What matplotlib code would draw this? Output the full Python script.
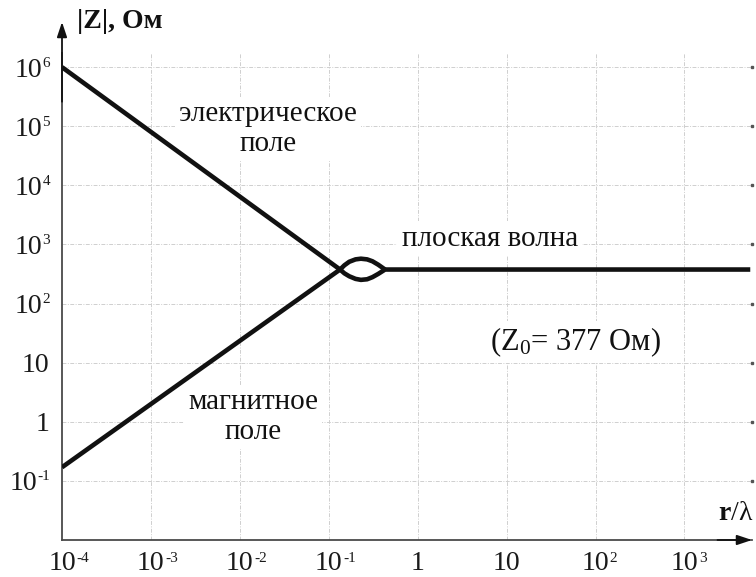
import matplotlib
matplotlib.use("Agg")
import matplotlib.pyplot as plt

plt.rcParams["font.family"] = ["Liberation Serif", "DejaVu Serif"]
plt.rcParams["mathtext.fontset"] = "custom"
plt.rcParams["mathtext.rm"] = "Liberation Serif"
plt.rcParams["mathtext.it"] = "Liberation Serif:italic"
plt.rcParams["mathtext.bf"] = "Liberation Serif:bold"

# Wave impedance of the electric-dipole field (falls, dips below Z0 near r/λ ~ 0.2)
r_electric = [1e-4, 0.134, 0.15, 0.17, 0.2, 0.23, 0.27, 0.31, 0.36, 0.43, 5500]
z_electric = [1e6, 377, 325, 290, 262, 252, 258, 280, 318, 377, 377]

# Wave impedance of the magnetic-dipole field (rises, overshoots Z0)
r_magnetic = [1e-4, 0.134, 0.15, 0.17, 0.2, 0.23, 0.27, 0.31, 0.36, 0.43]
z_magnetic = [0.17, 377, 445, 510, 560, 575, 560, 520, 455, 377]

# tick positions with (mantissa, exponent) labels; empty exponent = plain number
x_ticks = [1e-4, 1e-3, 1e-2, 1e-1, 1, 10, 1e2, 1e3]
x_tick_labels = [("10", "-4"), ("10", "-3"), ("10", "-2"), ("10", "-1"),
                 ("1", ""), ("10", ""), ("10", "2"), ("10", "3")]
y_ticks = [1e-1, 1, 10, 1e2, 1e3, 1e4, 1e5, 1e6]
y_tick_labels = [("10", "-1"), ("1", ""), ("10", ""), ("10", "2"), ("10", "3"),
                 ("10", "4"), ("10", "5"), ("10", "6")]

BASE_FS = 20
EXP_FS = 11
INK = "#1a1a1a"


def text_width_pt(s, size):
    # approximate advance widths of Times-like glyphs
    return sum((0.333 if ch == "-" else 0.5) * size for ch in s)


fig = plt.figure(figsize=(7.56, 5.77), dpi=100)
ax = fig.add_axes([62 / 756, 1 - 540 / 577, (752 - 62) / 756, (540 - 53) / 577])
ax.set_xscale("log")
ax.set_yscale("log")
ax.set_xlim(1e-4, 10 ** 3.76)
ax.set_ylim(1e-2, 10 ** 6.24)

grid_style = dict(color="#cfcfcf", lw=0.7, ls=(0, (4, 1.5, 1, 1.5)), zorder=0)
for x in x_ticks[1:]:
    ax.axvline(x, **grid_style)
for y in y_ticks:
    ax.axhline(y, **grid_style)
    ax.plot([10 ** 3.755], [y], marker="s", ms=1.6, color="#555555",
            clip_on=False, zorder=1)

ax.plot(r_electric, z_electric, color="#111111", lw=3.3, solid_joinstyle="round",
        solid_capstyle="butt", zorder=3)
ax.plot(r_magnetic, z_magnetic, color="#111111", lw=3.3, solid_joinstyle="round",
        solid_capstyle="butt", zorder=3)

ax.set_xticks(x_ticks)
ax.set_yticks(y_ticks)
ax.set_xticklabels([])
ax.set_yticklabels([])
ax.minorticks_off()
ax.tick_params(axis="both", length=0)

# x tick labels: mantissa centred on the tick, small raised exponent after it
for x, (base, exp) in zip(x_ticks, x_tick_labels):
    ax.annotate(base, xy=(x, 0), xycoords=("data", "axes fraction"),
                xytext=(0, -21.6), textcoords="offset points", ha="center",
                va="baseline", fontsize=BASE_FS, color=INK, annotation_clip=False)
    if exp:
        ax.annotate(exp, xy=(x, 0), xycoords=("data", "axes fraction"),
                    xytext=(text_width_pt(base, BASE_FS) / 2 + 0.3, -15.8),
                    textcoords="offset points", ha="left", va="baseline",
                    fontsize=EXP_FS, color=INK, annotation_clip=False)

# y tick labels: right-aligned left of the axis
for y, (base, exp) in zip(y_ticks, y_tick_labels):
    right = -8.6
    if exp:
        ax.annotate(exp, xy=(0, y), xycoords=("axes fraction", "data"),
                    xytext=(right, 0.3), textcoords="offset points", ha="right",
                    va="baseline", fontsize=EXP_FS, color=INK, annotation_clip=False)
        right -= text_width_pt(exp, EXP_FS) + 0.3
    else:
        right -= 0.5
    ax.annotate(base, xy=(0, y), xycoords=("axes fraction", "data"),
                xytext=(right, -6.8), textcoords="offset points", ha="right",
                va="baseline", fontsize=BASE_FS, color=INK, annotation_clip=False)

for side in ("top", "right"):
    ax.spines[side].set_visible(False)
for side in ("left", "bottom"):
    ax.spines[side].set_color("#4a4a4a")
    ax.spines[side].set_linewidth(1.3)

# axis arrows
arrow = dict(arrowstyle="-|>,head_length=0.9,head_width=0.3", color="#111111",
             lw=1.3, shrinkA=0, shrinkB=0)
ax.annotate("", xy=(0, 1 + 31 / 487), xytext=(0, 0.9), xycoords="axes fraction",
            textcoords="axes fraction", arrowprops=arrow, annotation_clip=False)
ax.annotate("", xy=(1.0, 0), xytext=(0.95, 0), xycoords="axes fraction",
            textcoords="axes fraction", arrowprops=arrow, annotation_clip=False)

fig.text(77 / 756, 1 - 22 / 577, "|Z|, Ом", fontsize=20, fontweight="bold",
         ha="left", va="center", color="#111111")
fig.text(753 / 756, 1 - 514 / 577, r"$\mathbf{r}$/λ", fontsize=20,
         ha="right", va="center", color="#111111")

box = dict(fc="white", ec="none", pad=3)
ax.text(10 ** -1.68, 10 ** 4.95, "электрическое\nполе", fontsize=21, ha="center",
        va="center", linespacing=1.2, bbox=box, zorder=2, color="#111111")
ax.text(10 ** -1.85, 10 ** 0.08, "магнитное\nполе", fontsize=21, ha="center",
        va="center", linespacing=1.2, bbox=box, zorder=2, color="#111111")
ax.text(10 ** 0.81, 10 ** 3.1, "плоская волна", fontsize=21, ha="center",
        va="center", bbox=box, zorder=2, color="#111111")
ax.text(10 ** 1.77, 10 ** 1.35, r"(Z$_0$= 377 Ом)", fontsize=22, ha="center",
        va="center", bbox=box, zorder=2, color="#111111")

fig.savefig("out.png", dpi=100, facecolor="white")
